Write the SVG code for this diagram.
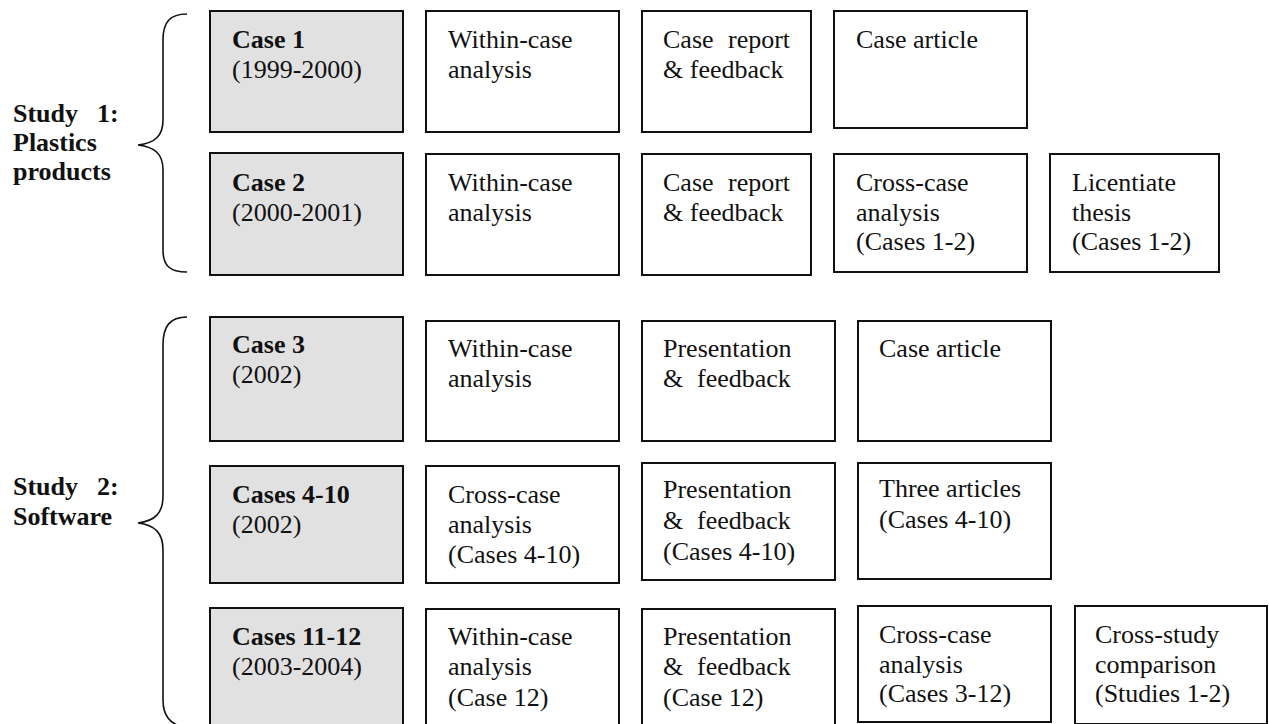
<svg xmlns="http://www.w3.org/2000/svg" width="1269" height="724" viewBox="0 0 1269 724">
  <style>
    .box { fill: #ffffff; stroke: #111111; stroke-width: 2; }
    .case { fill: #e1e1e1; stroke: #111111; stroke-width: 2; }
    .brace { fill: none; stroke: #111111; stroke-width: 1.6; }
    text { font-family: "Liberation Serif", "Times New Roman", serif; font-size: 26px; fill: #111111; }
    .b { font-weight: bold; }
  </style>
  <rect width="1269" height="724" fill="#ffffff"/>

  <!-- study labels and braces -->
  <g id="study1">
    <text class="b" x="13" y="122">Study<tspan x="97">1:</tspan></text>
    <text class="b" x="13" y="151">Plastics</text>
    <text class="b" x="13" y="180">products</text>
  </g>
  <g id="study2">
    <text class="b" x="13" y="495">Study<tspan x="97">2:</tspan></text>
    <text class="b" x="13" y="525">Software</text>
  </g>
  <g id="connectors">
    <path class="brace" d="M187,14 C170,14 163,22 163,40 L163,120 C163,136 155,143 138,145 C155,147 163,154 163,170 L163,250 C163,266 170,272 187,272"/>
    <path class="brace" d="M187,317 C170,317 163,326 163,345 L163,496 C163,513 155,521 138,523 C155,525 163,533 163,550 L163,700 C163,716 170,724 185,728"/>
  </g>

  <!-- Study 1, row 1 -->
  <g id="case1">
    <rect class="case" x="210" y="11" width="193" height="121"/>
    <text class="b" x="232" y="48">Case 1</text>
    <text x="232" y="78">(1999-2000)</text>
  </g>
  <g id="within1">
    <rect class="box" x="426" y="11" width="193" height="121"/>
    <text x="448" y="48">Within-case</text>
    <text x="448" y="78">analysis</text>
  </g>
  <g id="report1">
    <rect class="box" x="642" y="11" width="169" height="121"/>
    <text x="663" y="48">Case<tspan x="728">report</tspan></text>
    <text x="663" y="78">&amp; feedback</text>
  </g>
  <g id="article1">
    <rect class="box" x="834" y="11" width="193" height="117"/>
    <text x="856" y="48">Case article</text>
  </g>

  <!-- Study 1, row 2 -->
  <g id="case2">
    <rect class="case" x="210" y="153" width="193" height="122"/>
    <text class="b" x="232" y="191">Case 2</text>
    <text x="232" y="221">(2000-2001)</text>
  </g>
  <g id="within2">
    <rect class="box" x="426" y="154" width="193" height="121"/>
    <text x="448" y="191">Within-case</text>
    <text x="448" y="221">analysis</text>
  </g>
  <g id="report2">
    <rect class="box" x="642" y="154" width="169" height="121"/>
    <text x="663" y="191">Case<tspan x="728">report</tspan></text>
    <text x="663" y="221">&amp; feedback</text>
  </g>
  <g id="crosscase2">
    <rect class="box" x="834" y="154" width="193" height="118"/>
    <text x="856" y="191">Cross-case</text>
    <text x="856" y="220.5">analysis</text>
    <text x="856" y="250">(Cases 1-2)</text>
  </g>
  <g id="licentiate">
    <rect class="box" x="1050" y="154" width="169" height="118"/>
    <text x="1072" y="191">Licentiate</text>
    <text x="1072" y="220.5">thesis</text>
    <text x="1072" y="250">(Cases 1-2)</text>
  </g>

  <!-- Study 2, row 3 -->
  <g id="case3">
    <rect class="case" x="210" y="317" width="193" height="124"/>
    <text class="b" x="232" y="353">Case 3</text>
    <text x="232" y="383">(2002)</text>
  </g>
  <g id="within3">
    <rect class="box" x="426" y="321" width="193" height="120"/>
    <text x="448" y="357">Within-case</text>
    <text x="448" y="387">analysis</text>
  </g>
  <g id="present3">
    <rect class="box" x="642" y="321" width="193" height="120"/>
    <text x="663" y="357">Presentation</text>
    <text x="663" y="387">&amp;<tspan x="697">feedback</tspan></text>
  </g>
  <g id="article3">
    <rect class="box" x="858" y="321" width="193" height="120"/>
    <text x="879" y="357">Case article</text>
  </g>

  <!-- Study 2, row 4 -->
  <g id="case4to10">
    <rect class="case" x="210" y="466" width="193" height="117"/>
    <text class="b" x="232" y="503">Cases 4-10</text>
    <text x="232" y="533">(2002)</text>
  </g>
  <g id="crosscase4">
    <rect class="box" x="426" y="466" width="193" height="117"/>
    <text x="448" y="503">Cross-case</text>
    <text x="448" y="533">analysis</text>
    <text x="448" y="563">(Cases 4-10)</text>
  </g>
  <g id="present4">
    <rect class="box" x="642" y="463" width="193" height="117"/>
    <text x="663" y="498">Presentation</text>
    <text x="663" y="529">&amp;<tspan x="697">feedback</tspan></text>
    <text x="663" y="560">(Cases 4-10)</text>
  </g>
  <g id="articles4">
    <rect class="box" x="858" y="463" width="193" height="116"/>
    <text x="879" y="497">Three articles</text>
    <text x="879" y="528">(Cases 4-10)</text>
  </g>

  <!-- Study 2, row 5 -->
  <g id="case11to12">
    <rect class="case" x="210" y="608" width="193" height="130"/>
    <text class="b" x="232" y="645">Cases 11-12</text>
    <text x="232" y="675">(2003-2004)</text>
  </g>
  <g id="within5">
    <rect class="box" x="426" y="609" width="193" height="130"/>
    <text x="448" y="645">Within-case</text>
    <text x="448" y="675">analysis</text>
    <text x="448" y="706">(Case 12)</text>
  </g>
  <g id="present5">
    <rect class="box" x="642" y="609" width="193" height="130"/>
    <text x="663" y="645">Presentation</text>
    <text x="663" y="675">&amp;<tspan x="697">feedback</tspan></text>
    <text x="663" y="706">(Case 12)</text>
  </g>
  <g id="crosscase5">
    <rect class="box" x="858" y="606" width="193" height="116"/>
    <text x="879" y="643">Cross-case</text>
    <text x="879" y="673">analysis</text>
    <text x="879" y="702">(Cases 3-12)</text>
  </g>
  <g id="crossstudy">
    <rect class="box" x="1075" y="606" width="192" height="118"/>
    <text x="1095" y="643">Cross-study</text>
    <text x="1095" y="673">comparison</text>
    <text x="1095" y="702">(Studies 1-2)</text>
  </g>
</svg>
